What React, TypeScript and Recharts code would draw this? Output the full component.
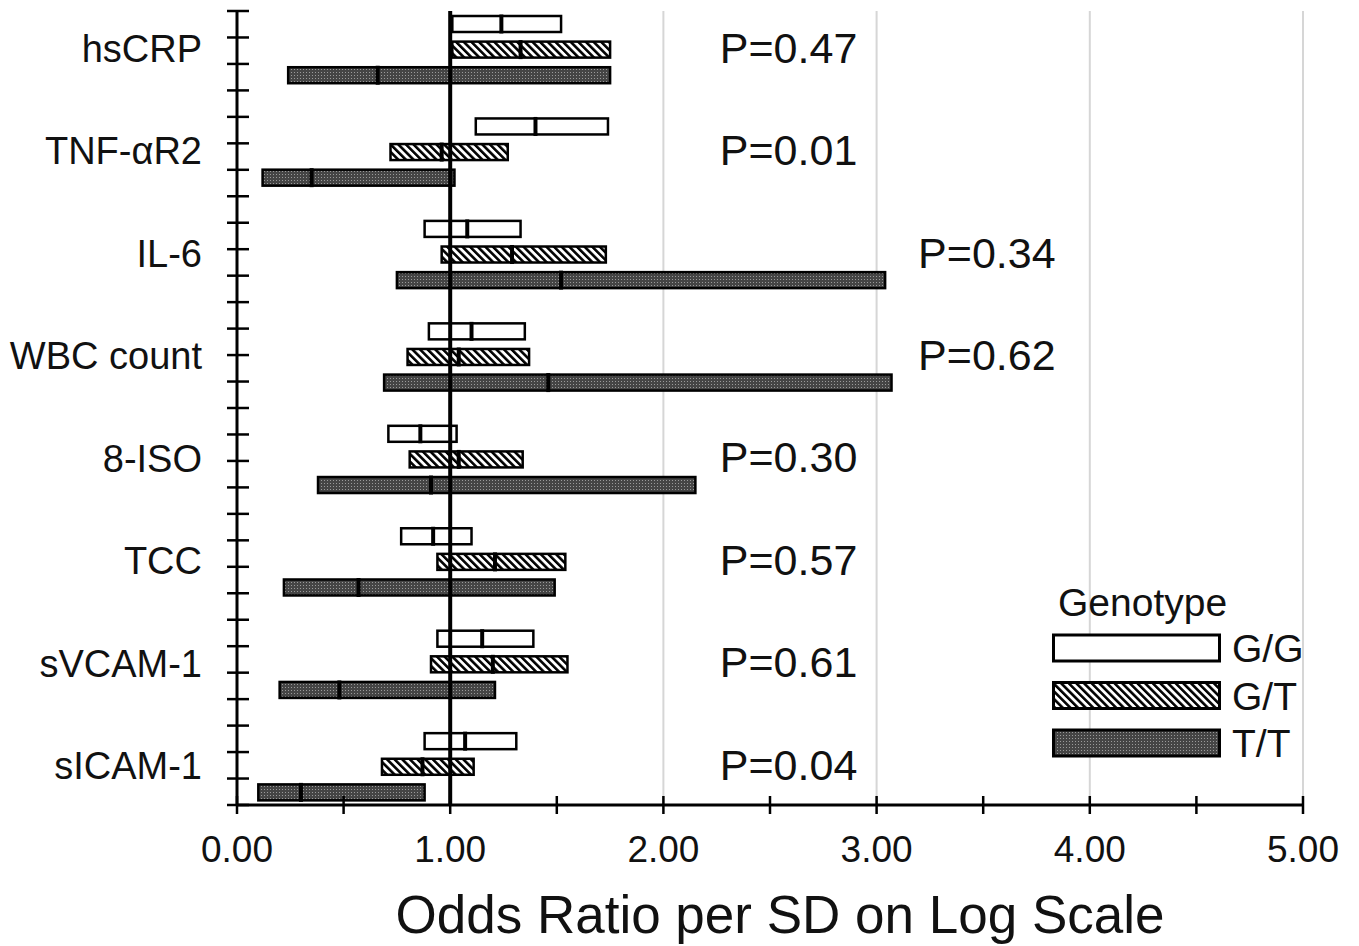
import React from 'react';
import {
  BarChart,
  Bar,
  XAxis,
  YAxis,
  CartesianGrid,
  ReferenceLine,
  ReferenceDot,
  Legend,
  Label,
} from 'recharts';

// ---------- data ----------
const markers = ['hsCRP', 'TNF-αR2', 'IL-6', 'WBC count', '8-ISO', 'TCC', 'sVCAM-1', 'sICAM-1'];
const genotypes = ['G/G', 'G/T', 'T/T'];
const pValues = ['P=0.47', 'P=0.01', 'P=0.34', 'P=0.62', 'P=0.30', 'P=0.57', 'P=0.61', 'P=0.04'];

// odds ratios per marker (lower CI, estimate, upper CI)
const lowGG = [1.01, 1.12, 0.88, 0.9, 0.71, 0.77, 0.94, 0.88];
const estGG = [1.24, 1.4, 1.08, 1.1, 0.86, 0.92, 1.15, 1.07];
const highGG = [1.52, 1.74, 1.33, 1.35, 1.03, 1.1, 1.39, 1.31];

const lowGT = [1.01, 0.72, 0.96, 0.8, 0.81, 0.94, 0.91, 0.68];
const estGT = [1.33, 0.96, 1.29, 1.04, 1.04, 1.21, 1.2, 0.87];
const highGT = [1.75, 1.27, 1.73, 1.37, 1.34, 1.54, 1.55, 1.11];

const lowTT = [0.24, 0.12, 0.75, 0.69, 0.38, 0.22, 0.2, 0.1];
const estTT = [0.66, 0.35, 1.52, 1.46, 0.91, 0.57, 0.48, 0.3];
const highTT = [1.75, 1.02, 3.04, 3.07, 2.15, 1.49, 1.21, 0.88];

const xTicks = [0, 0.5, 1, 1.5, 2, 2.5, 3, 3.5, 4, 4.5, 5];
const gridValues = [2, 3, 4, 5];
const farPMarkers = ['IL-6', 'WBC count'];

// ---------- rows ----------
type Row = {
  key: string;
  marker: string;
  genotype: string;
  range: [number, number] | null;
  est: number | null;
};

const rows: Row[] = [];
markers.forEach((m, i) => {
  const lows = [lowGG[i], lowGT[i], lowTT[i]];
  const ests = [estGG[i], estGT[i], estTT[i]];
  const highs = [highGG[i], highGT[i], highTT[i]];
  genotypes.forEach((g, j) => {
    rows.push({ key: `${m}|${g}`, marker: m, genotype: g, range: [lows[j], highs[j]], est: ests[j] });
  });
  if (i < markers.length - 1) {
    rows.push({ key: `${m}|gap`, marker: m, genotype: '', range: null, est: null });
  }
});
const boundaryTicks = Array.from({ length: rows.length + 1 }, (_, i) => i);

const FONT = '"Liberation Sans", Arial, Helvetica, sans-serif';
const fills: Record<string, string> = {
  'G/G': '#ffffff',
  'G/T': 'url(#hatchGT)',
  'T/T': 'url(#dotsTT)',
};
const legendFills: Record<string, string> = {
  'G/G': '#ffffff',
  'G/T': 'url(#lgHatchGT)',
  'T/T': 'url(#lgDotsTT)',
};

const PatternDefs = ({ hatchId, dotsId }: { hatchId: string; dotsId: string }) => (
  <defs>
    <pattern id={hatchId} patternUnits="userSpaceOnUse" width="5.4" height="5.4" patternTransform="rotate(-45)">
      <rect width="5.4" height="5.4" fill="#ffffff" />
      <line x1="1.3" y1="0" x2="1.3" y2="5.4" stroke="#000" strokeWidth="2.6" />
    </pattern>
    <pattern id={dotsId} patternUnits="userSpaceOnUse" width="3" height="3">
      <rect width="3" height="3" fill="#454545" />
      <rect width="1" height="1" fill="#9a9a9a" />
    </pattern>
  </defs>
);

const BarShape = (props: any) => {
  const { x, y, width, height, payload } = props;
  if (!payload || !payload.range || !isFinite(x) || !isFinite(width) || width === 0) return null;
  const [lo, hi] = payload.range;
  const ex = x + (width * (payload.est - lo)) / (hi - lo);
  return (
    <g>
      <rect x={x} y={y} width={width} height={height} fill={fills[payload.genotype]} stroke="#000" strokeWidth={2.5} />
      <line x1={ex} x2={ex} y1={y - 1.5} y2={y + height + 1.5} stroke="#000" strokeWidth={4} />
    </g>
  );
};

const CatTick = (props: any) => {
  const { x, y, payload } = props;
  const [m, g] = String(payload.value).split('|');
  if (g !== 'G/T') return null;
  return (
    <text x={x} y={y} dy="0.33em" textAnchor="end" fontSize={38} fill="#111" fontFamily={FONT}>
      {m}
    </text>
  );
};

const YBoundaryTick = (props: any) => {
  const { x, y } = props;
  return <line x1={x - 22} x2={x} y1={y} y2={y} stroke="#000" strokeWidth={2.5} />;
};

const XTick = (props: any) => {
  const { x, y, payload } = props;
  const v = Number(payload.value);
  return (
    <g>
      <line x1={x} x2={x} y1={y - 18} y2={y} stroke="#000" strokeWidth={2.5} />
      {Number.isInteger(v) && (
        <text x={x} y={y + 48} textAnchor="middle" fontSize={37} fill="#111" fontFamily={FONT}>
          {v.toFixed(2)}
        </text>
      )}
    </g>
  );
};

const LegendContent = () => (
  <svg width={320} height={190} style={{ overflow: 'visible', display: 'block' }}>
    <PatternDefs hatchId="lgHatchGT" dotsId="lgDotsTT" />
    <text x={19} y={37} fontSize={39} fill="#111" fontFamily={FONT}>
      Genotype
    </text>
    {genotypes.map((g, i) => (
      <g key={g}>
        <rect
          x={14.5}
          y={56 + i * 47.5}
          width={166}
          height={26}
          fill={legendFills[g]}
          stroke="#000"
          strokeWidth={3}
        />
        <text x={193} y={83 + i * 47.5} fontSize={39} fill="#111" fontFamily={FONT}>
          {g}
        </text>
      </g>
    ))}
  </svg>
);

export default function App() {
  const near = 2.26;
  const far = 3.19;
  return (
    <div style={{ position: 'absolute', left: 0, top: 0, fontFamily: FONT, background: '#fff' }}>
      <BarChart
        width={1359}
        height={946}
        data={rows}
        layout="vertical"
        margin={{ top: 11, right: 56, bottom: 0, left: 0 }}
        barCategoryGap={0}
      >
        <PatternDefs hatchId="hatchGT" dotsId="dotsTT" />
        <CartesianGrid
          horizontal={false}
          vertical
          verticalValues={gridValues}
          stroke="#d6d6d6"
          strokeWidth={2}
          yAxisId="cat"
        />
        <XAxis
          type="number"
          domain={[0, 5]}
          ticks={xTicks}
          interval={0}
          height={141}
          tickSize={9}
          tickMargin={0}
          tickLine={false}
          tick={<XTick />}
          axisLine={{ stroke: '#000', strokeWidth: 3 }}
          allowDataOverflow
        >
          <Label
            value="Odds Ratio per SD on Log Scale"
            position="insideBottom"
            offset={13}
            dx={10}
            fontSize={53}
            fill="#111"
            fontFamily={FONT}
          />
        </XAxis>
        <YAxis
          yAxisId="cat"
          type="category"
          dataKey="key"
          width={237}
          axisLine={false}
          tickLine={false}
          tickSize={0}
          tickMargin={35}
          interval={0}
          tick={<CatTick />}
        />
        <YAxis
          yAxisId="num"
          type="number"
          domain={[0, rows.length]}
          reversed
          mirror
          allowDataOverflow
          ticks={boundaryTicks}
          interval={0}
          tickLine={false}
          tickSize={12}
          tickMargin={0}
          tick={<YBoundaryTick />}
          axisLine={{ stroke: '#000', strokeWidth: 3 }}
        />
        <Bar
          yAxisId="cat"
          dataKey="range"
          barSize={16}
          shape={<BarShape />}
          isAnimationActive={false}
        />
        <ReferenceLine yAxisId="cat" x={1} stroke="#000" strokeWidth={4} />
        {markers.map((m, i) => (
          <ReferenceDot
            key={m}
            yAxisId="cat"
            x={farPMarkers.includes(m) ? far : near}
            y={`${m}|G/T`}
            r={1}
            fill="none"
            stroke="none"
            label={{ value: pValues[i], position: 'right', offset: 0, dy: -2, fontSize: 43, fill: '#111', fontFamily: FONT }}
          />
        ))}
        <Legend
          layout="vertical"
          align="center"
          verticalAlign="middle"
          content={<LegendContent />}
          wrapperStyle={{ position: 'absolute', left: 1039, top: 579, width: 320, height: 190 }}
        />
      </BarChart>
    </div>
  );
}
